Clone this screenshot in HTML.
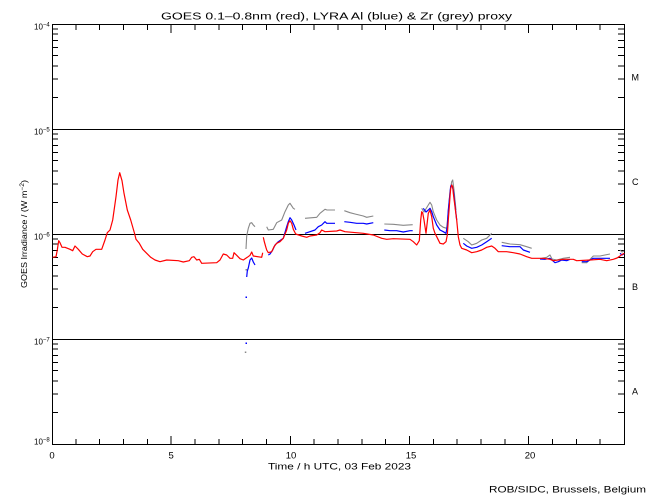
<!DOCTYPE html>
<html><head><meta charset="utf-8"><style>
html,body{margin:0;padding:0;background:#fff;}
svg{display:block;}
text{font-family:"Liberation Sans",sans-serif;fill:#000;}
</style></head><body>
<svg width="650" height="500" viewBox="0 0 650 500" xmlns="http://www.w3.org/2000/svg">
<rect width="650" height="500" fill="#fff"/>
<!-- title -->
<text x="161" y="19.5" font-size="10.5" textLength="351" lengthAdjust="spacingAndGlyphs">GOES 0.1–0.8nm (red), LYRA Al (blue) &amp; Zr (grey) proxy</text>

<g stroke="#000" stroke-width="1" fill="none" shape-rendering="crispEdges">
<rect x="52.5" y="24.5" width="572" height="420"/>
<path d="M52 129.5H624M52 234.5H624M52 339.5H624"/>
<!-- left minor ticks -->
<path d="M52 97.4h6M52 78.9h6M52 65.8h6M52 55.6h6M52 47.3h6M52 40.3h6M52 34.2h6M52 28.8h6
M52 202.4h6M52 183.9h6M52 170.8h6M52 160.6h6M52 152.3h6M52 145.3h6M52 139.2h6M52 133.8h6
M52 307.4h6M52 288.9h6M52 275.8h6M52 265.6h6M52 257.3h6M52 250.3h6M52 244.2h6M52 238.8h6
M52 412.4h6M52 393.9h6M52 380.8h6M52 370.6h6M52 362.3h6M52 355.3h6M52 349.2h6M52 343.8h6"/>
<!-- right minor ticks -->
<path d="M625 97.4h-7M625 78.9h-7M625 65.8h-7M625 55.6h-7M625 47.3h-7M625 40.3h-7M625 34.2h-7M625 28.8h-7
M625 202.4h-7M625 183.9h-7M625 170.8h-7M625 160.6h-7M625 152.3h-7M625 145.3h-7M625 139.2h-7M625 133.8h-7
M625 307.4h-7M625 288.9h-7M625 275.8h-7M625 265.6h-7M625 257.3h-7M625 250.3h-7M625 244.2h-7M625 238.8h-7
M625 412.4h-7M625 393.9h-7M625 380.8h-7M625 370.6h-7M625 362.3h-7M625 355.3h-7M625 349.2h-7M625 343.8h-7"/>
<!-- bottom ticks -->
<path d="M75.8 444v-5M99.7 444v-5M123.5 444v-5M147.3 444v-5M171.2 444v-8M195 444v-5M218.8 444v-5M242.7 444v-5M266.5 444v-5M290.3 444v-8M314.2 444v-5M338 444v-5M361.8 444v-5M385.7 444v-5M409.5 444v-8M433.3 444v-5M457.2 444v-5M481 444v-5M504.8 444v-5M528.7 444v-8M552.5 444v-5M576.3 444v-5M600.2 444v-5"/>
<!-- top ticks -->
<path d="M75.8 25v5M99.7 25v5M123.5 25v5M147.3 25v5M171.2 25v8M195 25v5M218.8 25v5M242.7 25v5M266.5 25v5M290.3 25v8M314.2 25v5M338 25v5M361.8 25v5M385.7 25v5M409.5 25v8M433.3 25v5M457.2 25v5M481 25v5M504.8 25v5M528.7 25v8M552.5 25v5M576.3 25v5M600.2 25v5"/>
</g>

<!-- y labels -->
<g font-size="8">
<text x="34" y="29.5">10<tspan font-size="6" dy="-3">−4</tspan></text>
<text x="34" y="134.5">10<tspan font-size="6" dy="-3">−5</tspan></text>
<text x="34" y="239.5">10<tspan font-size="6" dy="-3">−6</tspan></text>
<text x="34" y="344.5">10<tspan font-size="6" dy="-3">−7</tspan></text>
<text x="34" y="444.5">10<tspan font-size="6" dy="-3">−8</tspan></text>
</g>
<!-- class labels -->
<g font-size="9">
<text x="631.5" y="80.5">M</text>
<text x="632" y="185">C</text>
<text x="632" y="290">B</text>
<text x="632" y="394.5">A</text>
</g>
<!-- y axis title -->
<text transform="translate(27,288) rotate(-90)" font-size="8" textLength="108" lengthAdjust="spacingAndGlyphs">GOES Irradiance / (W m<tspan font-size="6" dy="-3">−2</tspan><tspan dy="3">)</tspan></text>

<!-- x tick labels -->
<g font-size="9.5" text-anchor="middle">
<text x="52" y="458.5">0</text>
<text x="171.2" y="458.5">5</text>
<text x="291" y="458.5">10</text>
<text x="411" y="458.5">15</text>
<text x="530" y="458.5">20</text>
</g>
<text x="268" y="469.5" font-size="9.5" textLength="143" lengthAdjust="spacingAndGlyphs">Time / h UTC, 03 Feb 2023</text>
<text x="489" y="492.5" font-size="9.5" textLength="157" lengthAdjust="spacingAndGlyphs">ROB/SIDC, Brussels, Belgium</text>

<!-- grey series -->
<g fill="none" stroke="#888" stroke-width="1.1" stroke-linejoin="round">
<polyline points="246,249 246.7,236 248.3,228.3 250,223.3 251.7,222.7 253.3,225 255,226.7"/>
<polyline points="266.7,226.7 268.3,230 273.3,229.3 276.7,222.7 281.7,220 285,211.7 288.3,205 290,203.3 293.3,208.3 295,209.3"/>
<polyline points="305,218.3 316.7,217.3 320,213.3 325,209.3 327,210 335,210"/>
<polyline points="344.3,210.7 350,212.7 355,214 363.3,216 366.7,217.3 373.3,216"/>
<polyline points="384.3,224 393.3,224.3 403.3,225.3 412.7,224.7"/>
<polyline points="421.7,208.3 424,212 428.3,205 430,202.3 431.7,205 433.3,211.7 436.7,220 440,225 443.3,227.3 446.7,228.3 448,215 450,191.7 451.7,181.7 452.7,180 454,190 456,210"/>
<polyline points="463.3,238.3 468.3,241.7 471.7,245 476.7,243.3 481.7,240 486.7,238.3 491.7,233.3"/>
<polyline points="501.7,242.3 510,244 520,244.7 526.7,246.7 531.7,248.3"/>
<polyline points="541.7,258.3 546.7,257.3 550,255 552,259 556.7,260 563.3,258.3 570,257.3"/>
<polyline points="581.7,262.7 586.7,262.7 593.3,256 600,256 610,254"/>
<polyline points="620,250 622,252 624,251"/>
</g>
<g fill="#888"><rect x="245.5" y="269" width="1.5" height="1.5"/><rect x="244.8" y="351.5" width="1.5" height="1.5"/></g>

<!-- blue series -->
<g fill="none" stroke="#0000ff" stroke-width="1.2" stroke-linejoin="round">
<polyline points="246.7,277 247.3,271 248.3,268 250,260 251.7,258 253.3,262 255,265"/>
<polyline points="268.3,255 270,254 272.7,250 275,245 278.3,241.7 283.3,238.3 286.7,226.7 288.3,221.7 290,217.7 291.7,220 294,225 296,230"/>
<polyline points="305,233.3 310,231.7 315,230 318.3,226.7 321.7,225 325,221.7 326.7,223.3 335,223.3"/>
<polyline points="344.3,221.7 350,222.3 356.7,223.3 363.3,223.3 366.7,224 373.3,222.7"/>
<polyline points="384.3,230 390,230.7 396.7,230.7 403.3,232 410,230.7 412.7,230.7"/>
<polyline points="423.3,208.3 426,212 428.3,210 430,208.3 431.7,211.7 433.3,216.7 436.7,225 440,230 443.3,231.7 446,233.3 447.3,226 448.3,210 449.3,200 450.7,186 451.7,185 453.3,190 455,205 456.7,220"/>
<polyline points="463.3,243.3 466.7,246 471.7,248.3 476.7,247.3 481.7,245 486.7,241.7 491.7,238.3"/>
<polyline points="501.7,245.7 510,246.7 520,246.7 523.3,250 530,252.3"/>
<polyline points="540,259 545,259.3 550,258.3 555,262.7 558.3,261.7 561.7,260 566.7,260.7 570,259.3"/>
<polyline points="581.7,261.7 586.7,261.7 593.3,258.3 600,258.3 610,258.3"/>
<polyline points="620,253.3 622,255 624,254"/>
</g>
<g fill="#0000ff"><rect x="245.5" y="296.5" width="1.5" height="1.5"/><rect x="245.5" y="342.5" width="1.5" height="1.5"/></g>

<!-- red series -->
<g fill="none" stroke="#ff0000" stroke-width="1.2" stroke-linejoin="round">
<polyline points="52.7,257.3 56,256.7 57.3,250 58.7,240.7 60,242.7 62,247.3 65,247.3 70,249.3 72.7,250.7 75,246 78.3,249.3 82.3,254 87.3,256.7 90,256 92.7,251.7 96,249.3 101.7,249.3 105,240 107.3,232.7 110,230 112.7,220 116,196.7 118,180 119.7,172.7 122,180.7 124,193.3 127.3,210 130.7,220 134.7,234 136,239.3 139.3,243.3 142.7,249.3 146.7,253.3 150.7,257.3 155,260 160,261.7 166.7,260 178.3,260.7 183.3,262 189.3,260.7 191.7,257.3 194,256.7 196.7,260 199.3,259.3 201.7,263.3 216.7,262.7 220,260 223.3,254 226.7,255 230,258.3 232.7,258.3 234,252.7 236.7,255.3 240,258.7 243.3,260 247.3,257.3 250,255.3 251.7,252 253.3,256 261.7,257.3 262.7,252.7"/>
<polyline points="263.3,237.3 264.3,241.7 265.7,246.7 266.7,250 268.3,252.7 271.7,251.7 274,246.7 276.7,243.3 280,241.7 283.3,238.3 286.7,230 288.3,223.3 290,220.7 291.7,223.3 293.3,229.3 295.7,234 301.7,236 306.7,237.3 310,236 316.7,235 320,232.7 321.7,230 325,231.7 336.7,231 340,230 345,231.7 363.3,233.3 373.3,235 381.7,238.3 386.7,239.3 393.3,238.7 410,239.3 413.3,241.7 416.7,245 419.3,240.7 420.7,220 421.7,211.7 422.7,213 424,220 425,226.7 426,233.3 428.3,213.3 430,210 431.7,216.7 433.3,228.3 435,233.3 436.7,236.7 440,243.3 443.3,244 446,241.7 447.3,235 448.3,220 449.3,206.7 450,196.7 450.7,188.3 451.7,185 452.7,186.7 453.3,193.3 455,206.7 456.7,220 458.3,236.7 460,245 461.7,248.3 466.7,250 471.7,252.7 476.7,251.7 481.7,250 486.7,247.3 491.7,246 495,248.3 498.3,251.7 506.7,251.7 513.3,252.7 520,254 526.7,256.7 531.7,258.3 543.3,258.3 550,259.3 553.3,260.7 563.3,259.3 573.3,259.3 576.7,260.7 590,260 600,259.3 606.7,260.7 613.3,259.3 617,258 620,256 621.7,254.7 624.3,253.3"/>
</g>
</svg>
</body></html>
